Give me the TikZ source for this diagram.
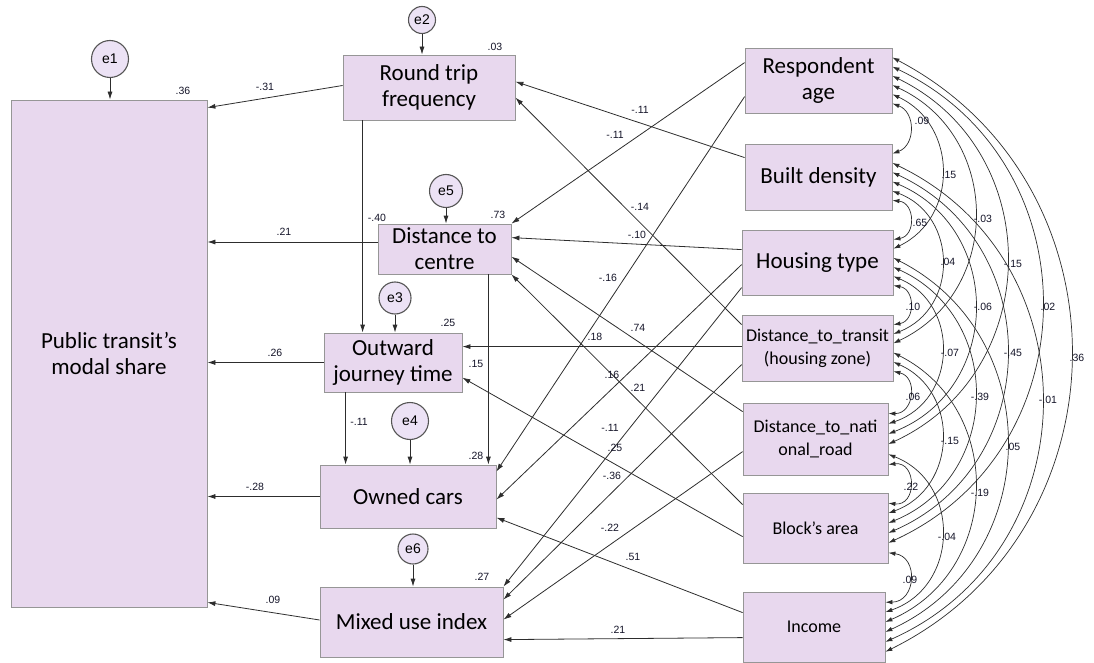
\documentclass[tikz,border=0pt]{standalone}
\usepackage{fontspec}
\setmainfont{Carlito}
\newfontfamily\arialfont{Liberation Sans}
\usetikzlibrary{arrows.meta,calc}

\definecolor{boxfill}{RGB}{232,216,238}
\definecolor{boxline}{RGB}{150,150,150}
\definecolor{errfill}{RGB}{236,226,245}
\definecolor{errline}{RGB}{85,85,85}
\definecolor{wire}{RGB}{45,45,45}
\definecolor{coefcol}{RGB}{20,20,40}

\begin{document}
\begin{tikzpicture}[x=1pt,y=-1pt,
  var/.style={draw=boxline, fill=boxfill, line width=0.8pt, inner sep=0pt,
    align=center, font=\fontsize{23}{26}\selectfont},
  smallvar/.style={var, font=\fontsize{18}{23}\selectfont},
  err/.style={circle, draw=errline, fill=errfill, line width=1.1pt, inner sep=0pt,
    font=\arialfont\fontsize{14}{16}\selectfont},
  reg/.style={draw=wire, line width=0.8pt, -{Latex[length=8pt,width=5pt]}},
  cov/.style={draw=wire, line width=0.7pt,
    {Latex[length=7pt,width=4.5pt]}-{Latex[length=7pt,width=4.5pt]}},
  coef/.style={font=\arialfont\fontsize{10.5}{12}\selectfont, text=coefcol, inner sep=0pt},
]
\useasboundingbox (0,0) rectangle (1094,663);

% ---- endogenous variables ----
\node[var, minimum width=196pt, minimum height=507pt] (pub) at (109,353.5) {Public transit’s\\modal share};
\node[var, minimum width=172pt, minimum height=65pt] (rtf) at (429,87.5) {Round trip\\frequency};
\node[var, minimum width=133pt, minimum height=50pt] (dtc) at (444.5,249) {Distance to\\centre};
\node[var, minimum width=138pt, minimum height=59pt] (ojt) at (393,362.5) {Outward\\journey time};
\node[var, minimum width=176pt, minimum height=63pt] (own) at (408,496.5) {Owned cars};
\node[var, minimum width=183pt, minimum height=70pt] (mix) at (411.5,622) {Mixed use index};

% ---- exogenous variables ----
\node[var, minimum width=147pt, minimum height=65pt] (age) at (818.5,80.5) {Respondent\\age};
\node[var, minimum width=147pt, minimum height=66pt] (dens) at (818.5,177) {Built density};
\node[var, minimum width=151pt, minimum height=65pt] (house) at (817.5,262.5) {Housing type};
\node[smallvar, minimum width=151pt, minimum height=66pt] (transit) at (817.5,348) {Distance\_to\_transit\\(housing zone)};
\node[smallvar, minimum width=145pt, minimum height=72pt] (road) at (815.5,439) {Distance\_to\_nati\\onal\_road};
\node[smallvar, minimum width=145pt, minimum height=70pt] (block) at (815.5,528) {Block’s area};
\node[smallvar, minimum width=142pt, minimum height=70pt] (income) at (814,627) {Income};

% ---- error terms ----
\node[err, minimum size=37pt] (e1) at (110,59) {e1};
\node[err, minimum size=27pt] (e2) at (422,20) {e2};
\node[err, minimum size=33pt] (e5) at (446,191) {e5};
\node[err, minimum size=32pt] (e3) at (395,298) {e3};
\node[err, minimum size=37pt] (e4) at (410,421) {e4};
\node[err, minimum size=30pt] (e6) at (413,549) {e6};

\draw[reg] (e1) -- (e1 |- pub.north);
\draw[reg] (e2) -- (e2 |- rtf.north);
\draw[reg] (e5) -- (e5 |- dtc.north);
\draw[reg] (e3) -- (e3 |- ojt.north);
\draw[reg] (e4) -- (e4 |- own.north);
\draw[reg] (e6) -- (e6 |- mix.north);

% ---- paths into the modal share ----
\draw[reg] (rtf.west) ++(0,-2) coordinate (r0) -- ($(pub.north east)+(0,8)$);
\draw[reg] ($(dtc.west)+(0,-7)$) coordinate (d0) -- (d0 -| pub.east);
\draw[reg] (ojt.west) -- (ojt.west -| pub.east);
\draw[reg] (own.west) -- (own.west -| pub.east);
\draw[reg] ($(mix.west)+(0,-2)$) -- ($(pub.south east)+(0,-5)$);

% ---- paths among the mediators ----
\draw[reg] ($(rtf.south west)+(20,0)$) coordinate (r1) -- (r1 |- ojt.north);
\draw[reg] ($(dtc.south east)+(-23,0)$) coordinate (d1) -- (d1 |- own.north);
\draw[reg] ($(ojt.south west)+(22,0)$) coordinate (o1) -- (o1 |- own.north);

% ---- paths from the exogenous variables ----
\draw[reg] ($(age.north west)+(0,15)$) -- (dtc.north east);
\draw[reg] ($(age.north west)+(0,49)$) -- ($(own.north east)+(0,7)$);
\draw[reg] ($(dens.north west)+(0,14)$) -- ($(rtf.north east)+(0,27)$);
\draw[reg] ($(house.north west)+(0,20)$) -- ($(dtc.north east)+(0,14)$);
\draw[reg] ($(house.north west)+(0,35)$) -- ($(own.north east)+(0,35)$);
\draw[reg] ($(house.north west)+(0,58)$) -- (mix.north east);
\draw[reg] ($(transit.north west)+(0,10)$) -- ($(rtf.north east)+(0,43)$);
\draw[reg] ($(transit.north west)+(0,32)$) -- ($(ojt.north east)+(0,14)$);
\draw[reg] ($(transit.north west)+(0,50)$) -- ($(mix.north east)+(0,13)$);
\draw[reg] ($(road.north west)+(0,9)$) -- ($(dtc.north east)+(0,33)$);
\draw[reg] ($(road.north west)+(0,49)$) -- ($(mix.north east)+(0,33)$);
\draw[reg] ($(block.north west)+(0,12)$) -- (dtc.south east);
\draw[reg] ($(block.north west)+(0,44)$) -- ($(ojt.north east)+(0,45)$);
\draw[reg] ($(income.north west)+(0,21)$) -- ($(own.north east)+(0,53)$);
\draw[reg] ($(income.north west)+(0,46)$) -- ($(mix.north east)+(0,53)$);

% ---- covariances: attachment points on the right edges ----
\foreach \n in {age,dens,house,transit,road,block,income}
  \foreach \m in {0,...,5}
    \coordinate (\n-\m) at ($(\n.north east)!{0.15+0.14*\m}!(\n.south east)$);

% circular arcs bulging to the right, apex set by the distance between the boxes
\foreach \i/\j/\a/\b in {
  1/2/age/dens, 1/3/age/house, 1/4/age/transit, 1/5/age/road, 1/6/age/block, 1/7/age/income,
  2/3/dens/house, 2/4/dens/transit, 2/5/dens/road, 2/6/dens/block, 2/7/dens/income,
  3/4/house/transit, 3/5/house/road, 3/6/house/block, 3/7/house/income,
  4/5/transit/road, 4/6/transit/block, 4/7/transit/income,
  5/6/road/block, 5/7/road/income,
  6/7/block/income}{
  \pgfmathtruncatemacro\si{6+\i-\j}
  \pgfmathtruncatemacro\sj{\j-1-\i}
  \pgfmathsetmacro\apex{{910,942,975,1007,1042,1071}[\j-\i-1]}
  \path (\a-\si); \pgfgetlastxy{\xa}{\ya}
  \path (\b-\sj); \pgfgetlastxy{\xb}{\yb}
  \pgfmathsetmacro\chord{veclen(\xb-\xa,\yb-\ya)}
  \pgfmathsetmacro\sag{\apex-(\xa+\xb)/2}
  \pgfmathsetmacro\bendang{2*atan(2*\sag/\chord)}
  \pgfmathsetmacro\loose{0.8514*(1+4*(\sag/\chord)*(\sag/\chord))}
  \draw[cov] (\a-\si) to[bend left=\bendang, looseness=\loose] (\b-\sj);
}

% ---- coefficients ----
\foreach \px/\py/\t [count=\k] in {
  183/91/.36, 495/47/.03, 498/215/.73, 448/323/.25, 476/456/.28, 482/577/.27,
  265/87/-.31, 284/232/.21, 275/353/.26, 255/487/-.28, 273/600/.09,
  377/218/-.40, 476/364/.15, 359/422/-.11,
  640/110/-.11, 615/135/-.11, 640/207/-.14, 637/235/-.10, 608/278/-.16,
  638/328/.74, 595/337/.18, 612/375/.16, 638/388/.21, 610/428/-.11,
  615/448/.25, 612/476/-.36, 610/528/-.22, 633/557/.51, 618/630/.21}
  \node[coef] (p\k) at (\px,\py) {\t};

\foreach \px/\py/\t [count=\k] in {
  922/121/.09, 949/175/.15, 983/219/-.03, 1013/264/-.15, 1048/307/.02, 1077/358/.36,
  920/223/.65, 948/262/.04, 983/307/-.06, 1013/353/-.45, 1048/400/-.01,
  913/307/.10, 950/353/-.07, 980/397/-.39, 1013/447/.05,
  913/397/.06, 950/441/-.15, 980/493/-.19,
  911/487/.22, 947/537/-.04,
  910/580/.09}
  \node[coef] (c\k) at (\px,\py) {\t};
\end{tikzpicture}
\end{document}
